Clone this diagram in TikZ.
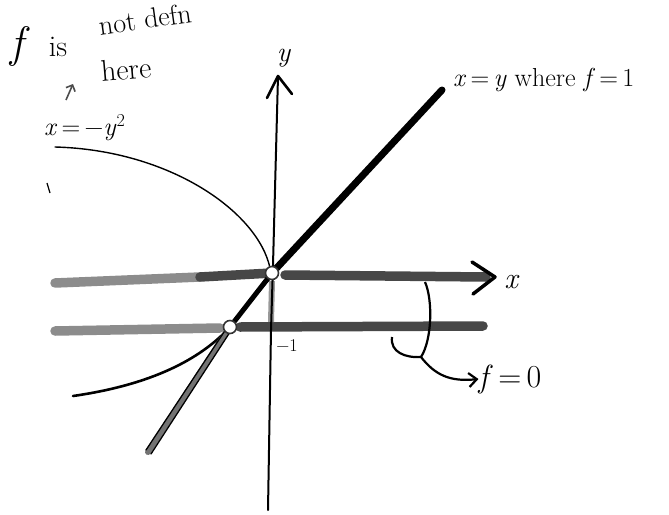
\documentclass[tikz,border=0pt]{standalone}
\usepackage{fontspec}
\usetikzlibrary{calc,arrows.meta}
\newcommand\iv[1]{\textit{#1}}
\begin{document}
\begin{tikzpicture}[x=1pt,y=-1pt,
  band/.style={line width=9.5pt, color=black!72, line cap=round},
  lightband/.style={line width=9.5pt, color=black!45, line cap=round},
  thin/.style={line width=2pt, color=black, line cap=round, line join=round},
  hole/.style={circle, draw=black!80, line width=1.6pt, fill=white, minimum size=13pt, inner sep=0pt},
  lbl/.style={font=\fontsize{26}{28}\selectfont, inner sep=0pt}]
\useasboundingbox (0,0) rectangle (669,514);
% coordinates
\coordinate (O) at (272,273);
\coordinate (P) at (230,327);
% x-axis band
\draw[lightband] (55,283) -- (200,277);
\draw[band] (200,277) -- (272,273);
\draw[band] (285,275) -- (486,277);
\coordinate (xtip) at (495,277);
\draw[line width=3.5pt, line cap=round, line join=round] (472,262) -- (xtip) -- (473,294);
% y = -1 band
\draw[lightband] (55,331) -- (220,328);
\draw[band] (240,327) -- (483,326);
% y-axis
\coordinate (ytip) at (278,76);
\coordinate (ybot) at (268,510);
\draw[thin] (ytip) -- (273,265);
\draw[line width=6pt, color=black!40] (272,281) -- (271,322);
\draw[thin] (273,265) -- (271,330) -- (ybot);
\draw[line width=2.6pt, line cap=round, line join=round] (267,98) -- (ytip) -- (292,94);
% parabola x = -y^2
\draw[line width=1.4pt, line cap=round] (55,147) .. controls (170,150) and (258,212) .. (270,268);
\draw[line width=2.6pt, line cap=round] (73,396) .. controls (150,385) and (200,360) .. (P) .. controls (250,302) .. (269,279);
% line x = y
\draw[line width=6pt, color=black!55, line cap=round] (148,452) -- (P);
\draw[line width=1.3pt, color=black, line cap=round] (146,450) -- ($(P)+(-2,-1)$);
\draw[line width=1.3pt, color=black, line cap=round] (151,454) -- ($(P)+(2,2)$);
\draw[line width=5pt, line cap=round] (P) -- (O);
\draw[line width=7pt, line cap=round] (O) -- (442,90);
% open points
\node[hole] (o1) at (O) {};
\node[hole] (o2) at (P) {};
% labels
\node[lbl, font=\fontsize{30}{32}\selectfont] (xl) at (512,282) {\iv{x}};
\node[lbl, font=\fontsize{28}{30}\selectfont] (yl) at (284,58) {\iv{y}};
\node[font=\fontsize{18}{20}\selectfont, inner sep=0pt] (m1) at (287,346) {−1};
\node[lbl, font=\fontsize{26}{28}\selectfont, anchor=west] (xy) at (453,80) {\iv{x}\,=\,\iv{y} where \iv{f}\,=\,1};
\node[lbl, font=\fontsize{26}{28}\selectfont, anchor=west] (pl) at (44,128) {\iv{x}\,=\,−\iv{y}\textsuperscript{2}};
\node[lbl, font=\fontsize{32}{34}\selectfont] (f0) at (510,379) {\iv{f}\,=\,0};
\node[lbl, font=\fontsize{44}{46}\selectfont] (fn) at (20,46) {\iv{f}};
\node[lbl, font=\fontsize{30}{32}\selectfont] (is) at (58,47) {is};
\node[lbl, font=\fontsize{28}{30}\selectfont, rotate=8] (nd) at (145,19) {not defn};
\node[lbl, font=\fontsize{30}{32}\selectfont, rotate=5] (here) at (126,69) {here};
% small arrow to note
\draw[line width=1.6pt, color=black!70, -{Straight Barb[length=5pt]}] (66,100) -- (73,84);
% brace to f=0
\coordinate (b1) at (425,282);
\coordinate (b2) at (392,337);
\coordinate (bj) at (421,357);
\draw[line width=2.2pt] (b1) .. controls (433,300) and (432,340) .. (bj);
\draw[line width=2.2pt] (b2) .. controls (390,352) and (405,358) .. (bj);
\draw[line width=2.2pt, -{Straight Barb[length=8pt,width=14pt]}] (bj) .. controls (435,375) and (450,382) .. (f0.west);
% stray mark
\draw[line width=1.2pt] (47,183) -- (50,193);
\end{tikzpicture}
\end{document}
